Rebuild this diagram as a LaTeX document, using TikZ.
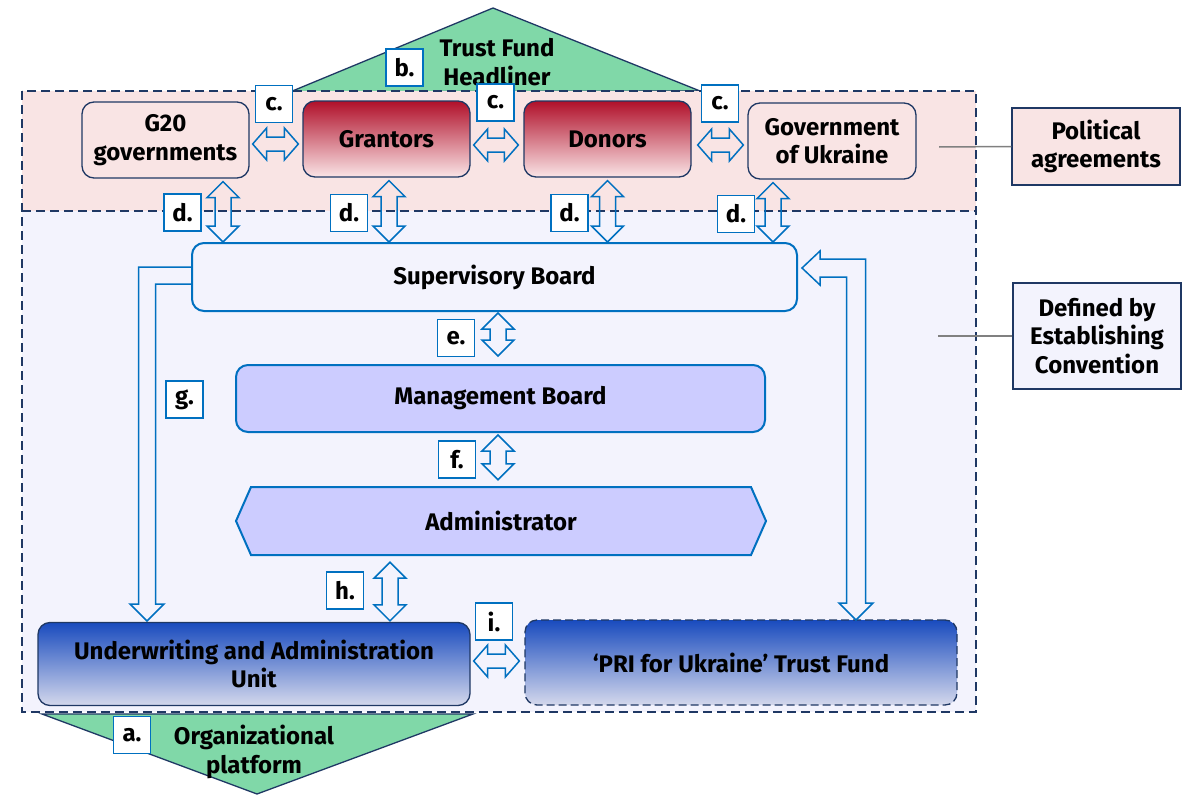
\documentclass[tikz,border=0pt]{standalone}
\usepackage{fontspec}
\setmainfont{Fira Sans}
\usetikzlibrary{positioning,calc}

\definecolor{navy}{RGB}{31,56,100}
\definecolor{arrowblue}{RGB}{0,112,192}
\definecolor{pinkbg}{RGB}{249,228,228}
\definecolor{lavbg}{RGB}{243,243,253}
\definecolor{mgmtfill}{RGB}{204,204,255}
\definecolor{tfgreen}{RGB}{128,216,168}
\definecolor{granttop}{RGB}{176,16,42}
\definecolor{grantbot}{RGB}{250,228,230}
\definecolor{uautop}{RGB}{25,75,190}
\definecolor{uaubot}{RGB}{212,216,236}
\definecolor{linegray}{RGB}{128,128,128}

\newcommand{\boxfont}{\fontsize{24}{28.5}\selectfont\bfseries}

\tikzset{
  box/.style={draw=navy, line width=1.3pt, rounded corners=12pt, align=center, font=\boxfont},
  pinkbox/.style={box, fill=pinkbg},
  redbox/.style={box, top color=granttop, bottom color=grantbot},
  bluebox/.style={box, top color=uautop, bottom color=uaubot},
  boardbox/.style={box, draw=arrowblue, line width=2pt},
  sidebox/.style={draw=navy, line width=1.5pt, align=center, font=\boxfont},
  tag/.style={draw=arrowblue, line width=1.5pt, fill=white, minimum width=37pt, minimum height=37pt, inner sep=0pt, font=\boxfont},
  hollow/.style={draw=arrowblue, line width=1.5pt},
  frame/.style={draw=navy, line width=2.5pt, dash pattern=on 9pt off 5pt},
  tri/.style={draw=navy, line width=1.3pt, fill=tfgreen},
  conn/.style={draw=linegray, line width=1.5pt}
}

% double headed hollow arrows, vertical (upper point first) and horizontal (left point first)
\newcommand{\vdbl}[2]{%
  \draw[hollow] let \p1=(#1), \p2=(#2) in
    (\x1,\y1) -- ++(16pt,-16pt) -- ++(-8pt,0) -- (\x1+8pt,\y2+16pt) -- ++(8pt,0)
    -- (\x1,\y2) -- ++(-16pt,16pt) -- ++(8pt,0) -- (\x1-8pt,\y1-16pt) -- ++(-8pt,0) -- cycle;}
\newcommand{\hdbl}[2]{%
  \draw[hollow] let \p1=(#1), \p2=(#2) in
    (\x1,\y1) -- ++(14pt,16pt) -- ++(0,-9pt) -- (\x2-14pt,\y1+7pt) -- ++(0,9pt)
    -- (\x2,\y1) -- ++(-14pt,-16pt) -- ++(0,9pt) -- (\x1+14pt,\y1-7pt) -- ++(0,-9pt) -- cycle;}

\begin{document}
\begin{tikzpicture}[x=1pt, y=-1pt]
\useasboundingbox (0,0) rectangle (1192,795);

% headliner and platform
\draw[tri] (290,92) -- (493,8) -- (700,91) -- cycle;
\draw[tri] (42,714) -- (473,714) -- (257,794) -- cycle;

% the two zones
\fill[pinkbg] (22,91) rectangle (976,211);
\fill[lavbg] (22,211) rectangle (976,712);
\draw[frame] (22,91) rectangle (976,712);
\draw[frame] (22,211) -- (976,211);

\node[align=center, font=\boxfont] (headl) at (497,62) {Trust Fund\\Headliner};
\node[align=center, font=\boxfont] (platf) at (254,752) {Organizational\\platform};

% top row
\node[pinkbox, minimum width=167pt, minimum height=76pt] (g20) at (165.5,140) {G20\\governments};
\node[redbox, minimum width=167pt, minimum height=76pt] (grant) at (386.5,139) {Grantors};
\node[redbox, minimum width=167pt, minimum height=76pt] (donors) at (607.5,139) {Donors};
\node[pinkbox, minimum width=168pt, minimum height=76pt] (govukr) at (832,141) {Government\\of Ukraine};

% boards
\node[boardbox, fill=lavbg, minimum width=605pt, minimum height=68pt] (sup) at (494.5,277) {Supervisory Board};
\node[boardbox, fill=mgmtfill, minimum width=529pt, minimum height=67pt] (mgmt) at (500.5,398.5) {Management Board};
\draw[hollow, line width=2pt, fill=mgmtfill] (236,521) -- (251,487) -- (751,487) -- (766,521) -- (751,555) -- (251,555) -- cycle;
\node[font=\boxfont, minimum width=530pt, minimum height=68pt] (admin) at (501,521) {Administrator};

% bottom row
\node[bluebox, minimum width=432pt, minimum height=83pt] (uau) at (254,664) {Underwriting and Administration\\Unit};
\node[bluebox, dash pattern=on 8pt off 4pt, minimum width=432pt, minimum height=85pt] (pri) at (741,662.5) {`PRI for Ukraine' Trust Fund};

% side notes
\node[sidebox, fill=pinkbg, minimum width=168pt, minimum height=77pt] (polit) at (1096,146.5) {Political\\agreements};
\node[sidebox, fill=lavbg, minimum width=168pt, minimum height=106pt] (defd) at (1097,336) {Defined by\\Establishing\\Convention};
\coordinate (pa) at (939,147);
\coordinate (dc) at (938,336);
\draw[conn] (polit.west) -- (pa);
\draw[conn] (defd.west) -- (dc);

% c. arrows
\hdbl{[xshift=3pt,yshift=-4pt]g20.east}{[xshift=-4pt]grant.west}
\hdbl{[xshift=3pt,yshift=-6pt]grant.east}{[xshift=-5pt]donors.west}
\hdbl{[xshift=6pt,yshift=-6pt]donors.east}{[xshift=-4pt]govukr.west}

% d. arrows
\vdbl{[xshift=57.5pt,yshift=-3pt]g20.south}{sup.north}
\vdbl{[xshift=2.5pt,yshift=-3pt]grant.south}{sup.north}
\vdbl{[yshift=-3pt]donors.south}{sup.north}
\vdbl{[xshift=-59pt,yshift=-3pt]govukr.south}{sup.north}

% e. f. h. i.
\vdbl{[xshift=3.5pt,yshift=-1pt]sup.south}{[yshift=8pt]mgmt.north}
\vdbl{[xshift=-2.5pt,yshift=-2pt]mgmt.south}{[yshift=7pt]admin.north}
\vdbl{[xshift=-111pt,yshift=-7pt]admin.south}{[yshift=1pt]uau.north}
\hdbl{[xshift=3pt,yshift=3pt]uau.east}{[xshift=-5pt,yshift=1.5pt]pri.west}

% g. arrow
\coordinate (gtip) at (147,621);
\draw[hollow] let \p1=(sup.west), \p2=(gtip) in
  (\x1,\y1+10pt) -- (\x2-8.5pt,\y1+10pt) -- (\x2-8.5pt,\y2+17pt) -- ++(-8.5pt,0) -- (\x2,\y2)
  -- ++(17pt,17pt) -- ++(-8.5pt,0) -- (\x2+8.5pt,\y1-7pt) -- (\x1,\y1-7pt);

% return arrow to the board
\coordinate (rtip) at (856,620);
\draw[hollow] let \p1=([xshift=4pt,yshift=9pt]sup.east), \p2=(rtip) in
  (\x1,\y1) -- ++(18pt,17pt) -- ++(0,-8pt) -- (\x2+9.5pt,\y1+9pt) -- (\x2+9.5pt,\y2+17pt)
  -- ++(7.5pt,0) -- (\x2,\y2) -- ++(-17pt,17pt) -- ++(7.5pt,0) -- (\x2-9.5pt,\y1-9pt)
  -- (\x1+18pt,\y1-9pt) -- ++(0,-8pt) -- cycle;

% tags
\node[tag] (tb) at (404.5,67.5) {b.};
\node[tag] (tc1) at (274,104) {c.};
\node[tag] (tc2) at (495.5,102.5) {c.};
\node[tag] (tc3) at (720,103.5) {c.};
\node[tag] (td1) at (182.5,212.5) {d.};
\node[tag] (td2) at (349,213) {d.};
\node[tag] (td3) at (569.5,213) {d.};
\node[tag] (td4) at (736,214) {d.};
\node[tag] (te) at (456,338) {e.};
\node[tag] (tf) at (457,459.5) {f.};
\node[tag] (tg) at (184.5,399.5) {g.};
\node[tag] (th) at (345,590.5) {h.};
\node[tag] (ti) at (494,621.5) {i.};
\node[tag] (ta) at (132,735) {a.};
\end{tikzpicture}
\end{document}
